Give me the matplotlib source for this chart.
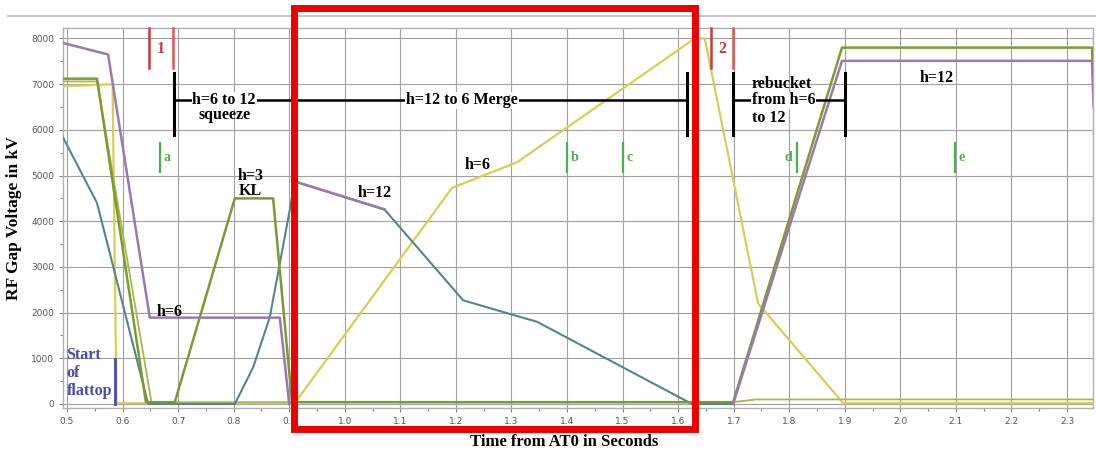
import matplotlib
matplotlib.use('Agg')

import numpy as np
import matplotlib.pyplot as plt
from matplotlib.patches import Rectangle
from matplotlib.lines import Line2D

nan = np.nan

# --- Data ---
purple_t = [0.49, 0.574, 0.649, 0.883, 0.900, nan, 0.910, 1.072, nan, 1.699, 1.895, 2.345, 2.348]
purple_v = [7910, 7650, 1890, 1890, 0, nan, 4870, 4260, nan, 0, 7510, 7510, 6500]

teal_t = [0.49, 0.554, 0.646, 0.802, 0.835, 0.865, 0.901, 0.910, 1.072, 1.213, 1.303, 1.346, 1.625, 1.70]
teal_v = [5900, 4400, 0, 0, 800, 1900, 4250, 4870, 4250, 2270, 1950, 1800, 0, 0]

green_t = [0.49, 0.554, 0.642, 0.694, 0.802, 0.871, 0.905, 1.699, 1.895, 2.345, 2.348]
green_v = [7120, 7120, 40, 40, 4500, 4500, 40, 40, 7800, 7800, 6900]

lgreen_t = [0.49, 0.554, 0.652, 1.699, 1.74, 2.348]
lgreen_v = [7060, 7060, 40, 40, 100, 100]

yellow_t = [0.49, 0.582, 0.589, 0.910, 1.193, 1.310, 1.630, 1.648, 1.744, 1.897, 2.348]
yellow_v = [6950, 7000, 20, 20, 4730, 5290, 8000, 8000, 2200, 20, 20]

# markers
red_x = [0.6476, 0.691, 1.660, 1.699]
red_c = ['#c43c3c', '#e05555', '#c43c3c', '#e05555']
green_mark_x = [0.667, 1.400, 1.501, 1.814, 2.098]
green_mark_txt = ['a', 'b', 'c', 'd', 'e']

xticks = np.round(np.arange(0.5, 2.31, 0.1), 1)
yticks = np.arange(0, 8001, 1000)

serif = 'Liberation Serif'

fig = plt.figure(figsize=(10.96, 4.51), dpi=100)
ax = fig.add_axes([0.0575, 0.0953, 0.9397, 0.8427])

ax.set_xlim(0.4928, 2.3467)
ax.set_ylim(-88, 8230)

ax.set_xticks(xticks)
ax.set_xticklabels([f'{v:.1f}' for v in xticks])
ax.set_xticks(np.arange(0.55, 2.35, 0.1), minor=True)
ax.set_yticks(yticks)
ax.set_yticks(np.arange(500, 8001, 1000), minor=True)
ax.tick_params(axis='both', which='major', labelsize=6.5, labelcolor='#555555',
               color='#888888', length=3, width=0.8)
ax.tick_params(axis='both', which='minor', color='#888888', length=2, width=0.8)
ax.grid(True, which='major', color='#a0a0a0', lw=0.8)
for s in ax.spines.values():
    s.set_color('#b0b0b0')
    s.set_linewidth(1.0)

# --- Traces ---
ax.plot(yellow_t, yellow_v, color='#d8cd55', lw=1.6, zorder=3)
ax.plot(lgreen_t, lgreen_v, color='#a8b848', lw=1.3, zorder=3)
ax.plot(teal_t, teal_v, color='#55858a', lw=1.5, zorder=4)
ax.plot(green_t, green_v, color='#7d9a30', lw=1.8, zorder=4)
ax.plot(purple_t, purple_v, color='#9a78b0', lw=1.8, zorder=5)

# --- Red numbered markers ---
for x, c in zip(red_x, red_c):
    ax.plot([x, x], [7350, 8230], color=c, lw=1.8, zorder=6, clip_on=False)
ax.text((red_x[0] + red_x[1]) / 2, 7780, '1', color='#c43c3c', fontsize=11.5,
        family=serif, fontweight='bold', ha='center', va='center', zorder=7)
ax.text((red_x[2] + red_x[3]) / 2, 7780, '2', color='#c43c3c', fontsize=11.5,
        family=serif, fontweight='bold', ha='center', va='center', zorder=7)

# --- Green letter markers ---
for x, t in zip(green_mark_x, green_mark_txt):
    ax.plot([x, x], [5080, 5720], color='#4caf50', lw=1.6, zorder=6)
    if t == 'd':
        ax.text(x - 0.008, 5400, t, color='#4caf50', fontsize=10, family=serif,
                fontweight='bold', ha='right', va='center', zorder=7)
    else:
        ax.text(x + 0.006, 5400, t, color='#4caf50', fontsize=10, family=serif,
                fontweight='bold', ha='left', va='center', zorder=7)

# --- Black brackets ---
bar_lo, bar_hi, bar_y = 5880, 7240, 6650
for x in [0.6926, 1.616, 1.699, 1.900]:
    ax.plot([x, x], [bar_lo, bar_hi], color='black', lw=2.2, zorder=8)
ax.plot([0.6926, 1.616], [bar_y, bar_y], color='black', lw=1.8, zorder=8)
ax.plot([1.699, 1.900], [bar_y, bar_y], color='black', lw=1.8, zorder=8)

fs = 11.5
wb = dict(facecolor='white', edgecolor='none', pad=0.5)
ax.text(0.783, bar_y, 'h=6 to 12', fontsize=fs, family=serif, fontweight='bold',
        ha='center', va='center', bbox=wb, zorder=9)
ax.text(0.783, 6320, 'squeeze', fontsize=fs, family=serif, fontweight='bold',
        ha='center', va='center', zorder=9)
ax.text(1.211, bar_y, 'h=12 to 6 Merge', fontsize=fs, family=serif, fontweight='bold',
        ha='center', va='center', bbox=wb, zorder=9)
ax.text(1.733, 7010, 'rebucket', fontsize=fs, family=serif, fontweight='bold',
        ha='left', va='center', zorder=9)
ax.text(1.733, bar_y, 'from h=6', fontsize=fs, family=serif, fontweight='bold',
        ha='left', va='center', bbox=wb, zorder=9)
ax.text(1.733, 6250, 'to 12', fontsize=fs, family=serif, fontweight='bold',
        ha='left', va='center', zorder=9)

# --- Harmonic labels ---
lab = dict(fontsize=fs, family=serif, fontweight='bold', ha='center', va='center', zorder=9)
ax.text(0.685, 2010, 'h=6', **lab)
ax.text(0.830, 5000, 'h=3', **lab)
ax.text(0.830, 4660, 'KL', **lab)
ax.text(1.053, 4610, 'h=12', **lab)
ax.text(1.240, 5240, 'h=6', **lab)
ax.text(2.066, 7140, 'h=12', **lab)

# --- Start of flattop ---
ax.plot([0.586, 0.586], [0, 980], color='#4b4bb0', lw=2.0, zorder=6)
ax.text(0.499, 680, 'Start\nof\nflattop', color='#4b4bb0', fontsize=fs, family=serif,
        fontweight='bold', ha='left', va='center', linespacing=1.15, zorder=9)

# --- Axis labels ---
ax.set_ylabel('RF Gap Voltage in kV', fontsize=12.5, family=serif, fontweight='bold')
ax.yaxis.set_label_coords(-0.040, 0.5)
ax.set_xlabel('Time from AT0 in Seconds', fontsize=12, family=serif, fontweight='bold')
ax.xaxis.set_label_coords(0.487, -0.068)

# --- page separator line and red highlight box (figure coordinates) ---
fig.add_artist(Line2D([8 / 1096, 1.0], [1 - 16 / 451, 1 - 16 / 451],
                      color='#bbbbbb', lw=1.2))
fig.add_artist(Rectangle((293.5 / 1096, 1 - 429 / 451), (695 - 293.5) / 1096, (429 - 8) / 451,
                         fill=False, edgecolor='#ee0000', lw=5, zorder=20))

plt.savefig('out.png', dpi=100)
